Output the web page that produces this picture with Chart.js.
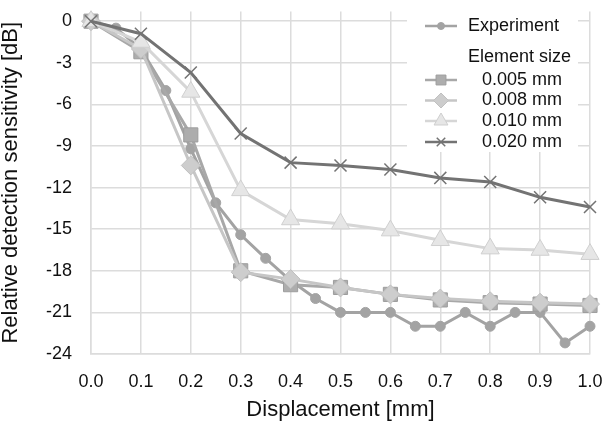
<!DOCTYPE html>
<html>
<head>
<meta charset="utf-8">
<title>Relative detection sensitivity vs displacement</title>
<script src="https://cdn.jsdelivr.net/npm/chart.js@4/dist/chart.umd.min.js"></script>
<style>
  html, body { margin: 0; padding: 0; background: #ffffff; }
  #wrap { width: 612px; height: 427px; position: relative; }
</style>
</head>
<body>
<div id="wrap"><canvas id="chart" width="612" height="427"></canvas></div>
<script>
// Measured sensitivity (every 0.05 mm)
const expDisplacement = [0, 0.05, 0.1, 0.15, 0.2, 0.25, 0.3, 0.35, 0.4, 0.45, 0.5, 0.55, 0.6, 0.65, 0.7, 0.75, 0.8, 0.85, 0.9, 0.95, 1.0];
const expSensitivity  = [0, -0.5, -2.0, -5.0, -9.2, -13.1, -15.4, -17.1, -18.7, -20.0, -21.0, -21.0, -21.0, -22.0, -22.0, -21.0, -22.0, -21.0, -21.0, -23.2, -22.0];

// Simulated sensitivity for each element size (every 0.1 mm)
const simDisplacement = [0, 0.1, 0.2, 0.3, 0.4, 0.5, 0.6, 0.7, 0.8, 0.9, 1.0];
const size005 = [0, -2.2, -8.2, -18.0, -19.0, -19.2, -19.7, -20.1, -20.3, -20.4, -20.5];
const size008 = [0, -2.0, -10.4, -18.1, -18.6, -19.2, -19.7, -20.0, -20.2, -20.3, -20.4];
const size010 = [0, -1.5, -5.1, -12.2, -14.3, -14.6, -15.1, -15.8, -16.4, -16.5, -16.8];
const size020 = [0, -0.9, -3.7, -8.1, -10.2, -10.4, -10.7, -11.3, -11.6, -12.7, -13.4];

// Axis ticks
const xTickValues = [0, 0.1, 0.2, 0.3, 0.4, 0.5, 0.6, 0.7, 0.8, 0.9, 1.0];
const yTickValues = [-24, -21, -18, -15, -12, -9, -6, -3, 0];

const FONT = '"Liberation Sans", Arial, Helvetica, sans-serif';
const GRID = '#dcdcdc';

const toPoints = (xs, ys) => xs.map((x, i) => ({ x: x, y: ys[i] }));

// Series styles: drawn in list order, later ones on top
const series = [
  { label: 'Experiment', xs: expDisplacement, ys: expSensitivity, line: '#a3a3a3', fill: '#a3a3a3', border: '#a3a3a3',
    style: 'circle', radius: 5, legendRadius: 3.5, bw: 1, lw: 3 },
  { label: '0.005 mm', xs: simDisplacement, ys: size005, line: '#a8a8a8', fill: '#adadad', border: '#9d9d9d',
    style: 'rect', radius: 10, legendRadius: 7, bw: 1, lw: 3 },
  { label: '0.008 mm', xs: simDisplacement, ys: size008, line: '#c6c6c6', fill: '#cdcdcd', border: '#c0c0c0',
    style: 'rectRot', radius: 9.5, legendRadius: 7.5, bw: 1, lw: 3 },
  { label: '0.010 mm', xs: simDisplacement, ys: size010, line: '#d6d6d6', fill: '#e6e6e6', border: '#cfcfcf',
    style: 'triangle', radius: 10.5, legendRadius: 8, bw: 1, lw: 3 },
  { label: '0.020 mm', xs: simDisplacement, ys: size020, line: '#737373', fill: '#737373', border: '#737373',
    style: 'crossRot', radius: 8.5, legendRadius: 6, bw: 1.5, lw: 3 }
];

const datasets = series.map((s, i) => ({
  label: s.label,
  data: toPoints(s.xs, s.ys),
  borderColor: s.line,
  backgroundColor: s.fill,
  borderWidth: s.lw,
  pointStyle: s.style,
  pointRadius: s.radius,
  pointBackgroundColor: s.fill,
  pointBorderColor: s.border,
  pointBorderWidth: s.bw,
  pointHoverRadius: s.radius,
  tension: 0,
  clip: false,
  order: series.length - 1 - i
}));

// Legend markers drawn with plain canvas paths
function drawMarker(ctx, s, x, y) {
  const r = s.legendRadius;
  ctx.save();
  ctx.fillStyle = s.fill;
  ctx.strokeStyle = s.border;
  ctx.lineWidth = s.bw;
  ctx.beginPath();
  if (s.style === 'circle') {
    ctx.arc(x, y, r, 0, Math.PI * 2);
    ctx.fill(); ctx.stroke();
  } else if (s.style === 'rect') {
    const h = r * Math.SQRT1_2;
    ctx.rect(x - h, y - h, 2 * h, 2 * h);
    ctx.fill(); ctx.stroke();
  } else if (s.style === 'rectRot') {
    ctx.moveTo(x - r, y); ctx.lineTo(x, y - r); ctx.lineTo(x + r, y); ctx.lineTo(x, y + r);
    ctx.closePath(); ctx.fill(); ctx.stroke();
  } else if (s.style === 'triangle') {
    ctx.moveTo(x, y - r);
    ctx.lineTo(x + r * Math.sin(2 * Math.PI / 3), y - r * Math.cos(2 * Math.PI / 3));
    ctx.lineTo(x + r * Math.sin(4 * Math.PI / 3), y - r * Math.cos(4 * Math.PI / 3));
    ctx.closePath(); ctx.fill(); ctx.stroke();
  } else if (s.style === 'crossRot') {
    const h = r * Math.SQRT1_2;
    ctx.moveTo(x - h, y - h); ctx.lineTo(x + h, y + h);
    ctx.moveTo(x + h, y - h); ctx.lineTo(x - h, y + h);
    ctx.stroke();
  }
  ctx.restore();
}

const legendPlugin = {
  id: 'boxLegend',
  beforeDatasetsDraw(chart) {
    const ctx = chart.ctx;
    ctx.save();
    ctx.fillStyle = '#ffffff';
    ctx.fillRect(407, 11, 171, 141);

    const lineX0 = 425, lineX1 = 457, markX = 441;
    const rows = [26, 80, 100.5, 121, 142];
    ctx.font = '18px ' + FONT;
    ctx.textBaseline = 'middle';
    ctx.textAlign = 'left';
    ctx.fillStyle = '#111111';
    ctx.fillText('Element size', 468, 57);

    series.forEach((s, i) => {
      const y = rows[i];
      ctx.strokeStyle = s.line;
      ctx.lineWidth = 2.5;
      ctx.beginPath();
      ctx.moveTo(lineX0, y);
      ctx.lineTo(lineX1, y);
      ctx.stroke();
      drawMarker(ctx, s, markX, y);
      ctx.fillStyle = '#111111';
      ctx.fillText(s.label, i === 0 ? 468 : 482, y);
    });
    ctx.restore();
  }
};

new Chart(document.getElementById('chart'), {
  type: 'line',
  data: { datasets: datasets },
  plugins: [legendPlugin],
  options: {
    responsive: false,
    animation: false,
    events: [],
    layout: { padding: { left: 0, right: 22, top: 0, bottom: 0 } },
    plugins: {
      legend: { display: false },
      tooltip: { enabled: false }
    },
    scales: {
      x: {
        type: 'linear',
        min: 0,
        max: 1,
        afterBuildTicks(scale) { scale.ticks = xTickValues.map(v => ({ value: v })); },
        afterFit(scale) {
          scale.height = 73;
          scale.paddingLeft = 0;
          scale.paddingRight = 0;
        },
        grid: { color: GRID, lineWidth: 1.5, drawTicks: false },
        border: { color: GRID, width: 1.5 },
        ticks: {
          padding: 17,
          color: '#111111',
          font: { family: FONT, size: 18 },
          maxRotation: 0,
          callback: v => Number(v).toFixed(1)
        },
        title: {
          display: true,
          text: 'Displacement [mm]',
          color: '#111111',
          font: { family: FONT, size: 22, lineHeight: 1 },
          padding: { top: 0, bottom: 6 }
        }
      },
      y: {
        type: 'linear',
        min: -24,
        max: 0.7,
        afterBuildTicks(scale) { scale.ticks = yTickValues.map(v => ({ value: v })); },
        afterFit(scale) {
          scale.width = 91;
          scale.paddingTop = 0;
          scale.paddingBottom = 0;
        },
        grid: { color: GRID, lineWidth: 1.5, drawTicks: false },
        border: { color: GRID, width: 1.5 },
        ticks: {
          padding: 19,
          color: '#111111',
          font: { family: FONT, size: 18 },
          callback: v => String(v)
        },
        title: {
          display: true,
          text: 'Relative detection sensitivity [dB]',
          color: '#111111',
          font: { family: FONT, size: 22, lineHeight: 1 },
          padding: { top: 0, bottom: 0 }
        }
      }
    }
  }
});
</script>
</body>
</html>
